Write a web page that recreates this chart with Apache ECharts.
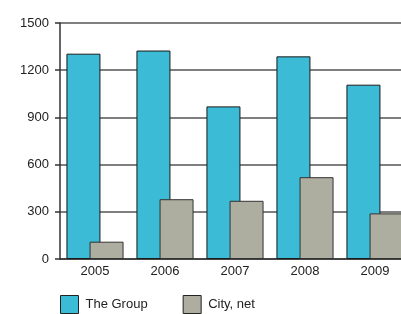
<!DOCTYPE html>
<html><head><meta charset="utf-8">
<script src="https://cdn.jsdelivr.net/npm/echarts@6/dist/echarts.min.js"></script>
<style>html,body{margin:0;padding:0;background:#fff;overflow:hidden;width:401px;height:314px}#c{width:410px;height:314px}</style>
</head><body><div id="c"></div>
<script>
var categories = ['2005','2006','2007','2008','2009'];
var groupValues = [1305, 1325, 970, 1288, 1108];
var cityValues = [110, 380, 370, 520, 290];
var yTicks = [0, 300, 600, 900, 1200, 1500];

var chart = echarts.init(document.getElementById('c'), null, {renderer:'canvas'});
chart.setOption({
  animation:false,
  textStyle:{fontFamily:'Liberation Sans, Arial, sans-serif'},
  grid:{left:60, top:23, width:350, height:236, containLabel:false},
  legend:{
    left:55, top:290, itemWidth:18, itemHeight:18, itemGap:35, icon:'rect',
    textStyle:{fontSize:13, color:'#222', padding:[0,0,0,2]},
    data:[
      {name:'The Group', itemStyle:{borderColor:'#222', borderWidth:1}},
      {name:'City, net', itemStyle:{borderColor:'#222', borderWidth:1}}
    ]
  },
  xAxis:{
    type:'category', data:categories,
    axisLine:{lineStyle:{color:'#333', width:1.5}},
    axisTick:{show:false},
    axisLabel:{fontSize:13, color:'#222', margin:6}
  },
  yAxis:{
    type:'value', min:yTicks[0], max:yTicks[yTicks.length-1], interval:300,
    axisLine:{show:true, lineStyle:{color:'#333', width:1.5}},
    axisTick:{show:true, length:5, lineStyle:{color:'#333', width:1.5}},
    axisLabel:{fontSize:13, color:'#222', margin:11, formatter:function(v){return String(v);}},
    splitLine:{lineStyle:{color:'#555', width:1.5}}
  },
  series:[
    {name:'The Group', type:'bar', data:groupValues, barWidth:34, barGap:'-32%',
     itemStyle:{color:'#3BBBD5', borderColor:'#1a1a1a', borderWidth:1}},
    {name:'City, net', type:'bar', data:cityValues, barWidth:34,
     itemStyle:{color:'#ADADA0', borderColor:'#333', borderWidth:1}}
  ]
});
</script></body></html>
